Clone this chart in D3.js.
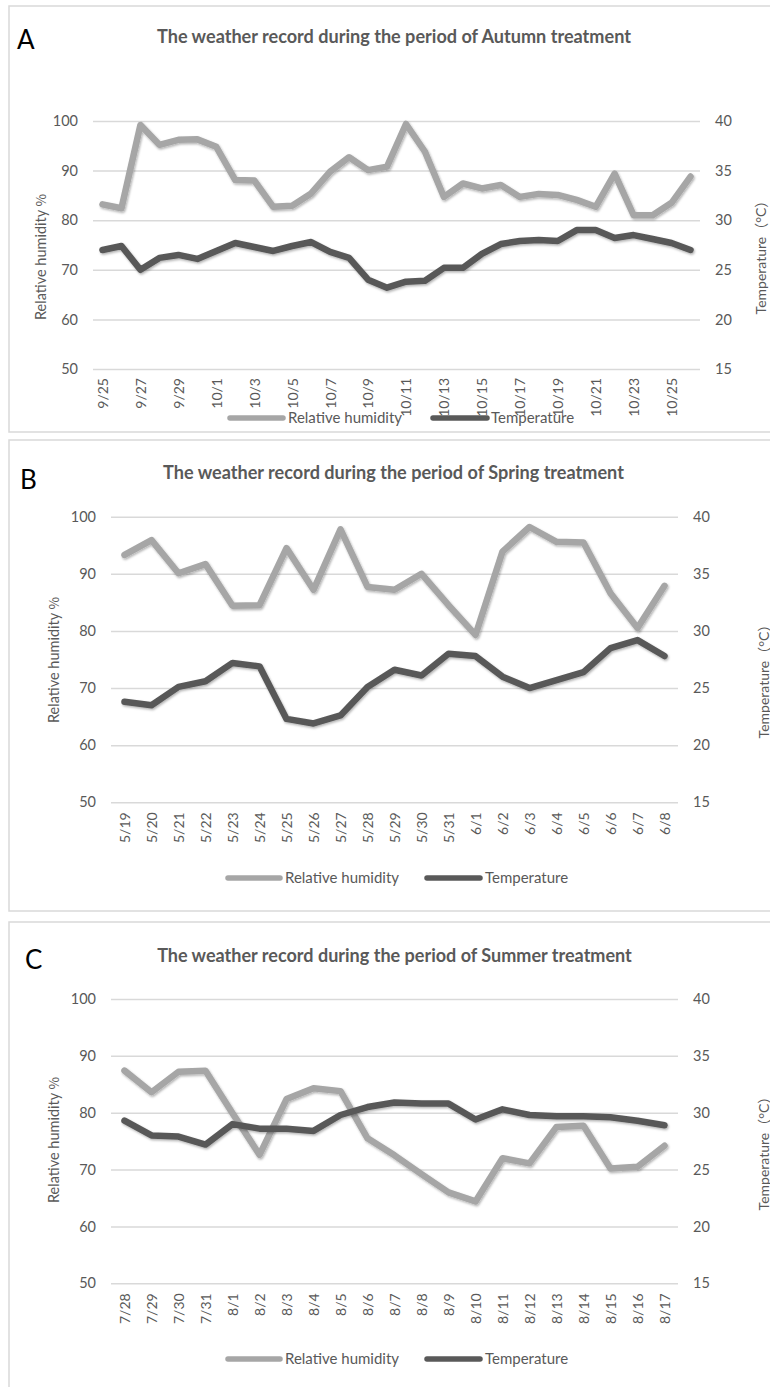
<!DOCTYPE html>
<html>
<head>
<meta charset="utf-8">
<script src="https://cdn.jsdelivr.net/npm/d3@7/dist/d3.min.js"></script>
<style>
  body { margin: 0; background: #fff; }
  svg { display: block; font-family: Lato, "Noto Sans", sans-serif; }
</style>
</head>
<body>
<svg id="chart" width="770" height="1387"></svg>
<script>
// ---- data ----
const aDates = ['9/25','9/26','9/27','9/28','9/29','9/30','10/1','10/2','10/3','10/4','10/5','10/6','10/7','10/8','10/9','10/10',
  '10/11','10/12','10/13','10/14','10/15','10/16','10/17','10/18','10/19','10/20','10/21','10/22','10/23','10/24','10/25','10/26'];
const aHumidity = [83.2, 82.4, 99.2, 95.2, 96.2, 96.3, 94.8, 88.1, 88.0, 82.7, 82.9, 85.4, 89.8, 92.7, 90.1, 90.8,
  99.4, 93.8, 84.7, 87.4, 86.4, 87.1, 84.7, 85.3, 85.1, 84.1, 82.7, 89.4, 81.0, 81.0, 83.5, 88.8];
const aTemperature = [27.0, 27.4, 25.0, 26.2, 26.5, 26.1, 26.9, 27.7, 27.3, 26.9, 27.4, 27.8, 26.8, 26.2, 24.0, 23.2,
  23.8, 23.9, 25.2, 25.2, 26.6, 27.6, 27.9, 28.0, 27.9, 29.0, 29.0, 28.2, 28.5, 28.1, 27.7, 27.0];

const bDates = ['5/19','5/20','5/21','5/22','5/23','5/24','5/25','5/26','5/27','5/28','5/29','5/30','5/31',
  '6/1','6/2','6/3','6/4','6/5','6/6','6/7','6/8'];
const bHumidity = [93.3, 95.9, 90.1, 91.7, 84.4, 84.5, 94.5, 87.2, 97.8, 87.7, 87.2, 90.0, 84.5,
  79.3, 93.9, 98.2, 95.6, 95.5, 86.6, 80.5, 87.9];
const bTemperature = [23.8, 23.5, 25.1, 25.6, 27.2, 26.9, 22.3, 21.9, 22.6, 25.1, 26.6, 26.1, 28.0,
  27.8, 26.0, 25.0, 25.7, 26.4, 28.5, 29.2, 27.8];

const cDates = ['7/28','7/29','7/30','7/31','8/1','8/2','8/3','8/4','8/5','8/6','8/7','8/8','8/9','8/10',
  '8/11','8/12','8/13','8/14','8/15','8/16','8/17'];
const cHumidity = [87.4, 83.6, 87.2, 87.4, 79.9, 72.6, 82.4, 84.3, 83.8, 75.5, 72.5, 69.2, 66.0, 64.4,
  72.0, 71.1, 77.5, 77.7, 70.2, 70.5, 74.2];
const cTemperature = [29.3, 28.0, 27.9, 27.2, 29.0, 28.6, 28.6, 28.4, 29.8, 30.5, 30.9, 30.8, 30.8, 29.4,
  30.3, 29.8, 29.7, 29.7, 29.6, 29.3, 28.9];

const humidityTicks = [50, 60, 70, 80, 90, 100];
const temperatureTicks = [15, 20, 25, 30, 35, 40];
const seriesNames = ['Relative humidity', 'Temperature'];

const rhColor = '#a6a6a6';
const tColor = '#595959';
const textColor = '#595959';
const gridColor = '#d9d9d9';
const cjk = 'Lato, "Noto Sans CJK SC", sans-serif';

// layout of the three stacked panels
const panels = [
  { letter: 'A', title: 'The weather record during the period of Autumn treatment',
    dates: aDates, rh: aHumidity, temp: aTemperature, every: 2,
    frameTop: 6, frameH: 426, letterX: 17, letterY: 49, titleY: 43, titleL: 157, titleR: 631,
    top: 121, bottom: 369, left: 93, right: 700, labelGap: 9,
    leftTitle: [40, 257], rightTitle: [760, 254],
    legendY: 418, legendX: [230, 283, 288, 433, 487, 491] },
  { letter: 'B', title: 'The weather record during the period of Spring treatment',
    dates: bDates, rh: bHumidity, temp: bTemperature, every: 1,
    frameTop: 440, frameH: 471, letterX: 20, letterY: 489, titleY: 479, titleL: 163, titleR: 624,
    top: 516.7, bottom: 802.3, left: 111, right: 678, labelGap: 10,
    leftTitle: [53, 660], rightTitle: [763, 678],
    legendY: 878, legendX: [228, 280, 285, 427, 480, 485] },
  { letter: 'C', title: 'The weather record during the period of Summer treatment',
    dates: cDates, rh: cHumidity, temp: cTemperature, every: 1,
    frameTop: 922, frameH: 500, letterX: 25, letterY: 969, titleY: 962, titleL: 157, titleR: 632,
    top: 999, bottom: 1283.3, left: 111, right: 678, labelGap: 10,
    leftTitle: [53, 1140], rightTitle: [763, 1150],
    legendY: 1359, legendX: [228, 280, 285, 427, 480, 485] }
];

const svg = d3.select('#chart');

// soft shadow under the lines, like the office chart style
svg.append('defs').append('filter')
  .attr('id', 'shadow')
  .attr('filterUnits', 'userSpaceOnUse')
  .attr('x', 0).attr('y', 0).attr('width', 770).attr('height', 1387)
  .append('feDropShadow')
  .attr('dx', 1).attr('dy', 1.5).attr('stdDeviation', 1.2)
  .attr('flood-color', '#000').attr('flood-opacity', 0.3);

panels.forEach(p => {
  const g = svg.append('g');

  g.append('rect')
    .attr('x', 9).attr('y', p.frameTop)
    .attr('width', 790).attr('height', p.frameH)
    .attr('fill', '#fff')
    .attr('stroke', gridColor).attr('stroke-width', 1.5);

  g.append('text')
    .attr('x', p.letterX).attr('y', p.letterY)
    .attr('font-size', 26).attr('fill', '#000')
    .text(p.letter);

  // title, sized to span the same width as the original
  const title = g.append('text')
    .attr('x', (p.titleL + p.titleR) / 2).attr('y', p.titleY)
    .attr('text-anchor', 'middle')
    .attr('font-weight', 'bold').attr('font-size', 16)
    .attr('fill', textColor)
    .text(p.title);
  const len = title.node().getComputedTextLength();
  title.attr('font-size', 16 * (p.titleR - p.titleL) / len);

  const x = d3.scalePoint().domain(p.dates).range([p.left, p.right]).padding(0.5);
  const yL = d3.scaleLinear().domain([50, 100]).range([p.bottom, p.top]);
  const yR = d3.scaleLinear().domain([15, 40]).range([p.bottom, p.top]);

  // left axis + gridlines
  const left = g.append('g')
    .attr('transform', `translate(${p.left},0)`)
    .call(d3.axisLeft(yL).tickValues(humidityTicks).tickSize(-(p.right - p.left)).tickPadding(15));
  left.select('.domain').remove();
  left.selectAll('line').attr('stroke', gridColor).attr('stroke-width', 1.5);
  left.selectAll('text').attr('fill', textColor).attr('font-size', 14.5).attr('font-family', 'Lato, sans-serif');

  const right = g.append('g')
    .attr('transform', `translate(${p.right},0)`)
    .call(d3.axisRight(yR).tickValues(temperatureTicks).tickSize(0).tickPadding(15));
  right.select('.domain').remove();
  right.selectAll('text').attr('fill', textColor).attr('font-size', 14.5).attr('font-family', 'Lato, sans-serif');

  // category labels, vertical
  const bottom = g.append('g')
    .attr('transform', `translate(0,${p.bottom})`)
    .call(d3.axisBottom(x).tickSize(0).tickFormat((d, i) => i % p.every === 0 ? d : ''));
  bottom.select('.domain').remove();
  bottom.selectAll('text')
    .attr('fill', textColor).attr('font-size', 14).attr('font-family', 'Lato, sans-serif')
    .attr('text-anchor', 'end')
    .attr('transform', `translate(0,${p.labelGap}) rotate(-90)`)
    .attr('x', 0).attr('y', 0).attr('dy', '0.35em');

  const lt = g.append('text')
    .attr('transform', `translate(${p.leftTitle[0]},${p.leftTitle[1]}) rotate(-90)`)
    .attr('text-anchor', 'middle').attr('dominant-baseline', 'central')
    .attr('font-size', 14.5).attr('fill', textColor);
  lt.append('tspan').text('Relative humidity ');
  lt.append('tspan').attr('font-family', '"Noto Sans CJK SC", sans-serif').attr('font-size', 13.5).text('%');

  g.append('text')
    .attr('transform', `translate(${p.rightTitle[0]},${p.rightTitle[1]}) rotate(-90)`)
    .attr('text-anchor', 'middle').attr('dominant-baseline', 'central')
    .attr('font-size', 14).attr('font-family', cjk).attr('fill', textColor)
    .text('Temperature（°C）');

  // series
  const rhLine = d3.line().x((d, i) => x(p.dates[i])).y(d => yL(d));
  const tLine = d3.line().x((d, i) => x(p.dates[i])).y(d => yR(d));

  g.append('path')
    .attr('d', rhLine(p.rh))
    .attr('fill', 'none').attr('stroke', rhColor).attr('stroke-width', 6.5)
    .attr('stroke-linejoin', 'round').attr('stroke-linecap', 'round')
    .attr('filter', 'url(#shadow)');

  g.append('path')
    .attr('d', tLine(p.temp))
    .attr('fill', 'none').attr('stroke', tColor).attr('stroke-width', 6.5)
    .attr('stroke-linejoin', 'round').attr('stroke-linecap', 'round')
    .attr('filter', 'url(#shadow)');

  // legend
  const lx = p.legendX;
  const legend = g.append('g').attr('transform', `translate(0,${p.legendY})`);
  [[lx[0], lx[1], lx[2], rhColor], [lx[3], lx[4], lx[5], tColor]].forEach((l, i) => {
    legend.append('line')
      .attr('x1', l[0]).attr('x2', l[1])
      .attr('stroke', l[3]).attr('stroke-width', 5.5).attr('stroke-linecap', 'round');
    legend.append('text')
      .attr('x', l[2]).attr('dy', '0.35em')
      .attr('font-size', 15).attr('fill', textColor)
      .text(seriesNames[i]);
  });
});
</script>
</body>
</html>
